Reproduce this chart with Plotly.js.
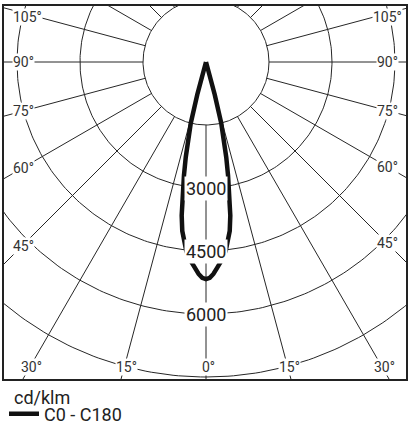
<!DOCTYPE html>
<html>
<head>
<meta charset="utf-8">
<script src="https://cdn.plot.ly/plotly-3.0.1.min.js"></script>
<style>
html,body{margin:0;padding:0;background:#ffffff;}
#chart{width:413px;height:427px;}
</style>
</head>
<body>
<div id="chart"></div>
<script>
// ---- data (cd/klm vs gamma angle) ----
const gammaDeg      = [0, 1, 2, 3, 4, 5, 6, 7, 8, 9, 10, 11, 12, 13, 14, 15, 16, 17, 30, 45, 60, 75, 90, 105, 120, 135, 150, 165, 180];
const intensityC0   = [5170, 5140, 5050, 4920, 4800, 4680, 4510, 4300, 4060, 3700, 3220, 2750, 2320, 1950, 1500, 800, 200, 0, 0, 0, 0, 0, 0, 0, 0, 0, 0, 0, 0];
const intensityC180 = [5170, 5140, 5050, 4920, 4800, 4680, 4510, 4300, 4060, 3700, 3220, 2750, 2320, 1950, 1500, 800, 200, 0, 0, 0, 0, 0, 0, 0, 0, 0, 0, 0, 0];
const seriesName = 'C0 - C180';
const unitLabel = 'cd/klm';

const ringValues = [1500, 3000, 4500, 6000, 7500, 9000];
const ringLabelValues = [3000, 4500, 6000];
const ringLabelTexts = ['3000', '4500', '6000'];
const spokeStep = 15;
const angleTickValues = [0, 15, 30, 45, 60, 75, 90, 105];
const angleTickTexts = ['0°', '15°', '30°', '45°', '60°', '75°', '90°', '105°'];

// ---- geometry helpers (pixel plan -> data units) ----
const PX = 1500 / 63;              // cd/klm per pixel
const rad = d => d * Math.PI / 180;
// angle measured from straight down, sign: +1 right (C0), -1 left (C180)
const toXY = (r, g, s) => [s * r * Math.sin(rad(g)), -r * Math.cos(rad(g))];

const xRange = [-202 * PX, 200 * PX];
const yRange = [-317 * PX, 56 * PX];

// rings
const ringX = [], ringY = [];
ringValues.forEach(v => {
  for (let a = 0; a <= 360; a += 1) {
    ringX.push(v * Math.cos(rad(a)));
    ringY.push(v * Math.sin(rad(a)));
  }
  ringX.push(null); ringY.push(null);
});

// spokes from first ring outward
const spokeX = [], spokeY = [];
const rIn = ringValues[0], rOut = 30000;
for (let a = 0; a < 360; a += spokeStep) {
  spokeX.push(rIn * Math.sin(rad(a)), rOut * Math.sin(rad(a)), null);
  spokeY.push(-rIn * Math.cos(rad(a)), -rOut * Math.cos(rad(a)), null);
}

// curve: C180 on the left (reverse order), C0 on the right
const curveX = [], curveY = [];
for (let i = gammaDeg.length - 1; i >= 0; i--) {
  const p = toXY(intensityC180[i], gammaDeg[i], -1);
  curveX.push(p[0]); curveY.push(p[1]);
}
for (let i = 1; i < gammaDeg.length; i++) {
  const p = toXY(intensityC0[i], gammaDeg[i], 1);
  curveX.push(p[0]); curveY.push(p[1]);
}

const gridColor = '#262626';
const traces = [
  {x: spokeX, y: spokeY, mode: 'lines', line: {color: gridColor, width: 1}, hoverinfo: 'skip', showlegend: false},
  {x: ringX, y: ringY, mode: 'lines', line: {color: gridColor, width: 1}, hoverinfo: 'skip', showlegend: false},
  {x: curveX, y: curveY, mode: 'lines', name: seriesName, line: {color: '#111111', width: 4.5}, hoverinfo: 'skip', showlegend: true}
];

// annotations
const annotations = [];
ringLabelValues.forEach((v, i) => {
  annotations.push({x: 0, y: -v, xref: 'x', yref: 'y', text: ringLabelTexts[i], showarrow: false,
    font: {family: 'Roboto', size: 18, color: '#222'}, bgcolor: '#ffffff', borderpad: 1,
    xanchor: 'center', yanchor: 'middle'});
});
const insetL = 184 * PX, insetR = 181 * PX, insetB = 305 * PX, topLimit = 56 * PX - 11 * PX;
angleTickValues.forEach((a, i) => {
  const sides = a === 0 ? [1] : [-1, 1];
  sides.forEach(s => {
    const sn = Math.sin(rad(a)), cs = Math.cos(rad(a));
    let t = Infinity;
    const lim = s < 0 ? insetL : insetR;
    if (sn > 1e-9) t = Math.min(t, lim / sn);
    if (cs > 1e-9) t = Math.min(t, insetB / cs);
    let x = s * t * sn, y = -t * cs;
    y = Math.min(y, topLimit);
    const onSide = sn > 1e-9 && (lim / sn) <= (cs > 1e-9 ? insetB / cs : Infinity);
    const ann = {x: x, y: y, xref: 'x', yref: 'y', text: angleTickTexts[i], showarrow: false,
      font: {family: 'Roboto', size: 14, color: '#333'}, bgcolor: '#ffffff', borderpad: 0,
      xanchor: 'center', yanchor: 'middle'};
    if (onSide && s < 0) { ann.x = -194 * PX; ann.xanchor = 'left'; }
    if (!onSide) ann.xshift = 2;
    annotations.push(ann);
  });
});
// unit caption above the legend entry
annotations.push({x: 12 / 402 - 4 / 402, y: -18 / 373, xref: 'paper', yref: 'paper', text: unitLabel,
  showarrow: false, font: {family: 'Roboto', size: 18, color: '#222'}, xanchor: 'left', yanchor: 'middle'});

const layout = {
  width: 413, height: 427,
  margin: {l: 4, r: 7, t: 6, b: 48, pad: 0, autoexpand: false},
  paper_bgcolor: '#ffffff', plot_bgcolor: '#ffffff',
  xaxis: {range: xRange, showgrid: false, zeroline: false, showticklabels: false, ticks: '',
    showline: true, mirror: true, linecolor: '#222', linewidth: 2, fixedrange: true},
  yaxis: {range: yRange, showgrid: false, zeroline: false, showticklabels: false, ticks: '',
    showline: true, mirror: true, linecolor: '#222', linewidth: 2, fixedrange: true},
  showlegend: true,
  legend: {x: 0, y: -35 / 373, xanchor: 'left', yanchor: 'middle', orientation: 'v',
    font: {family: 'Roboto', size: 18, color: '#222'},
    bgcolor: 'rgba(0,0,0,0)', borderwidth: 0, itemwidth: 30, tracegroupgap: 0},
  annotations: annotations
};

Plotly.newPlot('chart', traces, layout, {staticPlot: true, displayModeBar: false});
</script>
</body>
</html>
